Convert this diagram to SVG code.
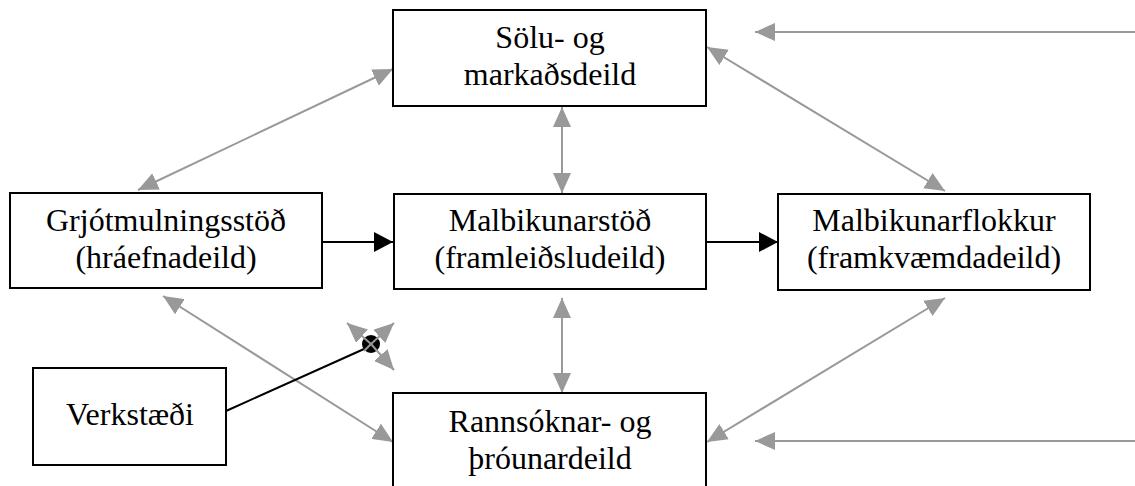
<svg xmlns="http://www.w3.org/2000/svg" width="1135" height="486" viewBox="0 0 1135 486">
<style>
.box{fill:#fff;stroke:#000;stroke-width:2}
.t{font-family:"Liberation Serif","Times New Roman",serif;font-size:32px;fill:#000;text-anchor:middle}
.g{stroke:#999;stroke-width:2;fill:none}
.k{stroke:#000;stroke-width:2;fill:none}
</style>
<defs>
<marker id="ga" markerUnits="userSpaceOnUse" markerWidth="20" markerHeight="18" refX="20" refY="9" orient="auto-start-reverse">
<path d="M0,0 L20,9 L0,18 z" fill="#999"/>
</marker>
<marker id="ka" markerUnits="userSpaceOnUse" markerWidth="20" markerHeight="20" refX="19" refY="10" orient="auto">
<path d="M0,0 L19,10 L0,20 z" fill="#000"/>
</marker>
</defs>
<g id="connectors">
<line class="g" x1="138" y1="190" x2="393" y2="69" marker-start="url(#ga)" marker-end="url(#ga)"/>
<line class="g" x1="707" y1="47" x2="945" y2="191" marker-start="url(#ga)" marker-end="url(#ga)"/>
<line class="g" x1="1135" y1="32" x2="755" y2="32" marker-end="url(#ga)"/>
<line class="g" x1="562" y1="107" x2="562" y2="193" marker-start="url(#ga)" marker-end="url(#ga)"/>
<line class="g" x1="562" y1="298" x2="562" y2="393" marker-start="url(#ga)" marker-end="url(#ga)"/>
<line class="k" x1="322" y1="242" x2="393" y2="242" marker-end="url(#ka)"/>
<line class="k" x1="706" y1="242" x2="778" y2="242" marker-end="url(#ka)"/>
<line class="g" x1="163" y1="296" x2="393" y2="442" marker-start="url(#ga)" marker-end="url(#ga)"/>
<line class="g" x1="945" y1="298" x2="707" y2="442" marker-start="url(#ga)" marker-end="url(#ga)"/>
<line class="g" x1="1135" y1="441" x2="755" y2="441" marker-end="url(#ga)"/>
<line class="k" x1="226" y1="411" x2="364" y2="349"/>
<circle cx="371" cy="344" r="9" fill="#000"/>
<line class="g" x1="371" y1="344" x2="347" y2="323" marker-end="url(#ga)"/>
<line class="g" x1="371" y1="344" x2="394" y2="323" marker-end="url(#ga)"/>
<line class="g" x1="371" y1="344" x2="394" y2="370" marker-end="url(#ga)"/>
<line class="g" x1="371" y1="344" x2="364" y2="351"/>
</g>
<g id="sales">
<rect class="box" x="393" y="10" width="313" height="96"/>
<text class="t" x="550" y="48">Sölu- og</text>
<text class="t" x="550" y="85">markaðsdeild</text>
</g>
<g id="crusher">
<rect class="box" x="10" y="193" width="312" height="95"/>
<text class="t" x="166" y="231">Grjótmulningsstöð</text>
<text class="t" x="166" y="268">(hráefnadeild)</text>
</g>
<g id="asphalt">
<rect class="box" x="394" y="194" width="312" height="95"/>
<text class="t" x="550" y="231">Malbikunarstöð</text>
<text class="t" x="550" y="268">(framleiðsludeild)</text>
</g>
<g id="paving">
<rect class="box" x="778" y="194" width="312" height="96"/>
<text class="t" x="934" y="231">Malbikunarflokkur</text>
<text class="t" x="934" y="268">(framkvæmdadeild)</text>
</g>
<g id="research">
<rect class="box" x="393" y="393" width="313" height="100"/>
<text class="t" x="550" y="432">Rannsóknar- og</text>
<text class="t" x="550" y="469">þróunardeild</text>
</g>
<g id="workshop">
<rect class="box" x="33" y="368" width="193" height="97"/>
<text class="t" x="130" y="425">Verkstæði</text>
</g>
</svg>
